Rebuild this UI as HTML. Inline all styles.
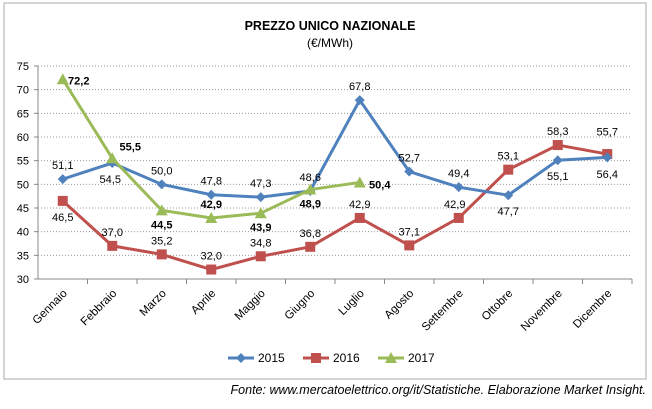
<!DOCTYPE html>
<html><head><meta charset="utf-8"><style>
body{margin:0;background:#fff;width:652px;height:404px;overflow:hidden;font-family:"Liberation Sans",sans-serif}
</style></head><body>
<svg id="c" width="652" height="404" xmlns="http://www.w3.org/2000/svg">
<rect x="4" y="3" width="642" height="376" fill="#fff" stroke="#aaa"/>
<text x="330" y="30" text-anchor="middle" font-size="12.5" font-weight="bold">PREZZO UNICO NAZIONALE</text>
<text x="330" y="47" text-anchor="middle" font-size="12">(€/MWh)</text>
<g id="grid"></g><g id="axes"></g><g id="series"></g><g id="legend"></g>
<text x="646" y="394" text-anchor="end" font-size="12.5" font-style="italic">Fonte: www.mercatoelettrico.org/it/Statistiche. Elaborazione Market Insight.</text>
</svg>
<script>
const categories=["Gennaio","Febbraio","Marzo","Aprile","Maggio","Giugno","Luglio","Agosto","Settembre","Ottobre","Novembre","Dicembre"];
const s2015=[51.1,54.5,50.0,47.8,47.3,48.6,67.8,52.7,49.4,47.7,55.1,55.7];
const s2016=[46.5,37.0,35.2,32.0,34.8,36.8,42.9,37.1,42.9,53.1,58.3,56.4];
const s2017=[72.2,55.5,44.5,42.9,43.9,48.9,50.4];
const yTicks=[30,35,40,45,50,55,60,65,70,75];
const seriesNames=["2015","2016","2017"];
const NS="http://www.w3.org/2000/svg";
const X0=38,X1=632,Y0=279,Y1=66,ymin=30,ymax=75;
const bw=(X1-X0)/categories.length;
const xS=i=>X0+bw*(i+0.5);
const yS=v=>Y0-(v-ymin)/(ymax-ymin)*(Y0-Y1);
function mk(t,a,p){const e=document.createElementNS(NS,t);for(const k in a)e.setAttribute(k,a[k]);p.appendChild(e);return e;}
const grid=document.getElementById('grid'),axes=document.getElementById('axes'),ser=document.getElementById('series'),leg=document.getElementById('legend');
yTicks.forEach(v=>{
 if(v>ymin){const l=mk('line',{x1:X0,x2:X1,y1:yS(v),y2:yS(v),stroke:'#999','stroke-dasharray':'1,2'},grid);
 
 }
 const t=mk('text',{x:X0-9,y:yS(v)+4,'text-anchor':'end','font-size':11},axes);t.textContent=v;
 
 
 mk('line',{x1:X0-4,x2:X0,y1:yS(v),y2:yS(v),stroke:'#888'},axes);
});
mk('line',{x1:X0,x2:X0,y1:Y1,y2:Y0,stroke:'#888'},axes);
mk('line',{x1:X0,x2:X1,y1:Y0,y2:Y0,stroke:'#888'},axes);
categories.forEach((c,i)=>{
 mk('line',{x1:X0+bw*(i+1),x2:X0+bw*(i+1),y1:Y0,y2:Y0+5,stroke:'#888'},axes);
 const x=xS(i)+5,y=Y0+15;
 const t=mk('text',{x:x,y:y,'text-anchor':'end','font-size':11.5,transform:`rotate(-45 ${x} ${y})`},axes);t.textContent=c;
 
 
});
const fmt=v=>v.toFixed(1).replace('.',',');
const off2015=[[0,-10],[-2,20],[0,-10],[0,-10],[0,-10],[0,-10],[0,-10],[0,-10],[0,-10],[0,20],[0,20],[0,-22]];
const off2016=[[0,20],[0,-10],[0,-10],[0,-10],[0,-10],[0,-10],[0,-10],[0,-10],[-4,-10],[0,-10],[0,-10],[0,24]];
const off2017=[[16,5],[18,-8],[0,18],[0,-10],[0,18],[0,18],[20,6]];
function drawSeries(data,color,marker,offs,bold,name){
 const g=mk('g',{},ser);
 
 
 const pl=mk('polyline',{points:data.map((v,i)=>xS(i)+','+yS(v)).join(' '),fill:'none',stroke:color,'stroke-width':3},g);
 
 
 data.forEach((v,i)=>{
  const x=xS(i),y=yS(v);let m;
  if(marker==='d')m=mk('polygon',{points:`${x},${y-5} ${x+5},${y} ${x},${y+5} ${x-5},${y}`,fill:color},g);
  else if(marker==='s')m=mk('rect',{x:x-5,y:y-5,width:10,height:10,fill:color},g);
  else m=mk('polygon',{points:`${x},${y-6} ${x+6},${y+5} ${x-6},${y+5}`,fill:color},g);
  
  
  const t=mk('text',{x:x+offs[i][0],y:y+offs[i][1],'text-anchor':'middle','font-size':11,'font-weight':bold?'bold':'normal'},g);
  t.textContent=fmt(v);
  
  
 });
}
drawSeries(s2016,'#c0504d','s',off2016,false,'2016');
drawSeries(s2015,'#4f81bd','d',off2015,false,'2015');
drawSeries(s2017,'#9bbb59','t',off2017,true,'2017');
const cols=['#4f81bd','#c0504d','#9bbb59'],mks=['d','s','t'],lx=[228,303,378];
seriesNames.forEach((n,k)=>{
 const g=mk('g',{},leg);
 
 
 const x=lx[k],y=358;
 mk('line',{x1:x,x2:x+26,y1:y,y2:y,stroke:cols[k],'stroke-width':3},g);
 const c=x+13;
 if(mks[k]==='d')mk('polygon',{points:`${c},${y-5} ${c+5},${y} ${c},${y+5} ${c-5},${y}`,fill:cols[k]},g);
 else if(mks[k]==='s')mk('rect',{x:c-5,y:y-5,width:10,height:10,fill:cols[k]},g);
 else mk('polygon',{points:`${c},${y-6} ${c+6},${y+5} ${c-6},${y+5}`,fill:cols[k]},g);
 const t=mk('text',{x:x+30,y:y+4,'font-size':12},g);t.textContent=n;
});
</script>
</body></html>
